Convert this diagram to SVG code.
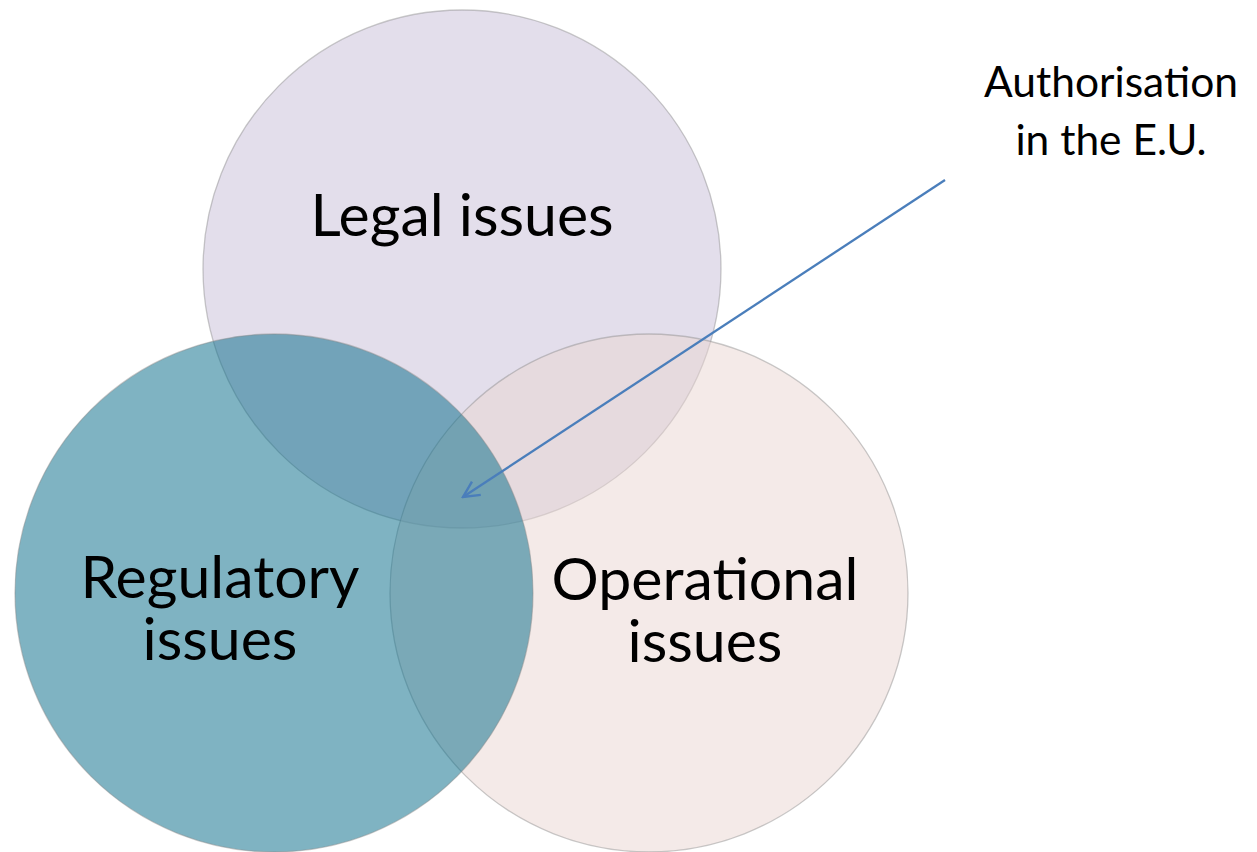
<svg xmlns="http://www.w3.org/2000/svg" width="1257" height="852" viewBox="0 0 1257 852">
<style>
.circ{stroke:#8a8a8a;stroke-opacity:0.45;stroke-width:1.3}
.lbl{font-family:Lato,"Liberation Sans",sans-serif;font-size:59px;fill:#000;text-anchor:middle}
.note{font-family:Lato,"Liberation Sans",sans-serif;font-size:42.5px;fill:#000;text-anchor:middle}
</style>
<defs>
<marker id="arr" viewBox="0 0 20 20" refX="18" refY="10" markerWidth="20" markerHeight="20" markerUnits="userSpaceOnUse" orient="auto">
<path d="M2,2 L18,10 L2,18" fill="none" stroke="#4A7EBB" stroke-width="2.4"/>
</marker>
</defs>
<rect width="1257" height="852" fill="#fff"/>
<g id="legal">
<circle class="circ" cx="462" cy="269" r="259" fill="#C7BDD7" fill-opacity="0.5"/>
</g>
<g id="operational">
<circle class="circ" cx="649" cy="593" r="259" fill="#E9D5D1" fill-opacity="0.5"/>
</g>
<g id="regulatory">
<circle class="circ" cx="274" cy="593" r="259" fill="#0D6F8C" fill-opacity="0.53"/>
</g>
<g id="labels">
<text class="lbl" x="462" y="236">Legal issues</text>
<text class="lbl" x="220" y="598">Regulatory</text>
<text class="lbl" x="220" y="660">issues</text>
<text class="lbl" x="705" y="600">Operational</text>
<text class="lbl" x="705" y="662">issues</text>
</g>
<g id="connectors">
<line x1="945" y1="180" x2="463" y2="497" stroke="#4A7EBB" stroke-width="2.3" marker-end="url(#arr)"/>
</g>
<g id="note">
<text class="note" x="1111" y="97">Authorisation</text>
<text class="note" x="1111" y="155">in the E.U.</text>
</g>
</svg>
